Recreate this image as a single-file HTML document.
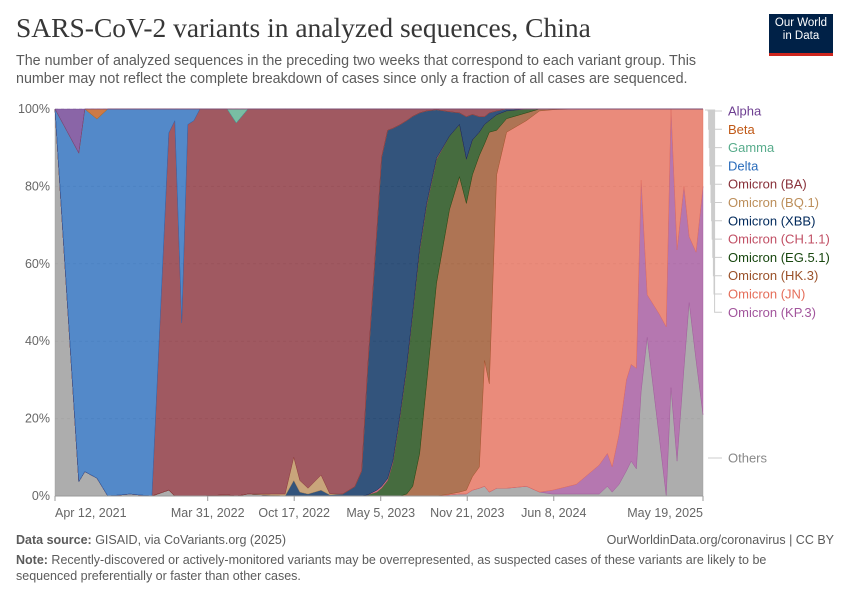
<!DOCTYPE html>
<html><head><meta charset="utf-8"><style>
body{margin:0;background:#fff;width:850px;height:600px;overflow:hidden;font-family:"Liberation Sans",sans-serif}
.t{position:absolute;white-space:nowrap}
</style></head><body>
<div class="t" style="left:16px;top:12px;font-family:'Liberation Serif',serif;font-size:27.5px;color:#373737">SARS-CoV-2 variants in analyzed sequences, China</div>
<div class="t" style="left:16px;top:52px;font-size:14.3px;line-height:18px;color:#5b5b5b">The number of analyzed sequences in the preceding two weeks that correspond to each variant group. This<br>number may not reflect the complete breakdown of cases since only a fraction of all cases are sequenced.</div>
<div style="position:absolute;left:769px;top:14px;width:64px;height:36px;background:#002147;border-bottom:3px solid #ce261e;color:#fff;font-size:11.5px;line-height:13px;text-align:center;padding-top:3px;box-sizing:content-box">Our World<br>in Data</div>
<svg id="chart" width="850" height="600" style="position:absolute;left:0;top:0"></svg>
<div class="t" style="left:16px;top:533px;font-size:12.5px;color:#5b5b5b"><b>Data source:</b> GISAID, via CoVariants.org (2025)</div>
<div class="t" style="right:16px;top:533px;font-size:12.5px;color:#5b5b5b">OurWorldinData.org/coronavirus | CC BY</div>
<div class="t" style="left:16px;top:553px;font-size:12.5px;line-height:15.5px;color:#5b5b5b"><b>Note:</b> Recently-discovered or actively-monitored variants may be overrepresented, as suspected cases of these variants are likely to be<br>sequenced preferentially or faster than other cases.</div>
<script>
const dates=["2021-04-12","2021-06-06","2021-06-20","2021-07-18","2021-08-12","2021-10-02","2021-11-22","2021-12-31","2022-01-14","2022-01-30","2022-02-13","2022-02-27","2022-03-13","2022-05-15","2022-06-05","2022-07-02","2022-09-26","2022-10-16","2022-10-30","2022-11-18","2022-12-18","2023-01-07","2023-02-06","2023-03-06","2023-03-22","2023-04-05","2023-04-26","2023-05-07","2023-05-21","2023-06-02","2023-06-18","2023-07-04","2023-07-18","2023-08-03","2023-08-19","2023-09-11","2023-10-11","2023-11-03","2023-11-19","2023-12-03","2023-12-19","2023-12-31","2024-01-11","2024-01-28","2024-02-20","2024-04-06","2024-05-06","2024-06-05","2024-07-30","2024-09-21","2024-10-10","2024-10-21","2024-11-06","2024-11-23","2024-12-04","2024-12-16","2024-12-27","2025-01-10","2025-02-07","2025-02-23","2025-03-06","2025-03-20","2025-04-05","2025-04-17","2025-05-03","2025-05-19"];
const others=[100,3.7,6.3,4.6,0,0.5,0,1.5,0,0,0,0,0,0.3,0,0.5,0,0,0,0,0,0,0,0,0,0,0,0,0,0,0,0,0,0,0,0,0.3,0.5,0.5,1.5,2,2.5,1,2,2,2.5,1,0.5,0.5,0.5,2.5,1,3,6.5,9,7,27,41,15,0,28,9,33,50,35,21];
const kp3=[0,0,0,0,0,0,0,0,0,0,0,0,0,0,0,0,0,0,0,0,0,0,0,0,0,0,0,0,0,0,0,0,0,0,0,0,0,0,0,0,0,0,0,0,0,0,0,1,2.5,7.5,8.5,6.5,13,23.5,25,26,54.6,11,32,43.7,72,54.6,47,17,28,59];
const jn=[0,0,0,0,0,0,0,0,0,0,0,0,0,0,0,0,0,0,0,0,0,0,0,0,0,0,0,0,0,0,0,0,0,0,0,0,0.2,0.5,1,3.5,5.5,32.5,28,81,92,94.5,98.5,98.3,97,92,89,92.5,84,70,66,67,18.4,48,53,56.3,0,36.4,20,33,37,20];
const hk3=[0,0,0,0,0,0,0,0,0,0,0,0,0,0,0,0,0,0,0,0,0,0,0,0,0,0,0,0,0,0,0,0.5,2.5,11,29,55,73.5,81.5,74.1,78,80.5,56,65,11.5,3.5,2,0.5,0.2,0,0,0,0,0,0,0,0,0,0,0,0,0,0,0,0,0,0];
const eg51=[0,0,0,0,0,0,0,0,0,0,0,0,0,0,0,0,0,0,0,0,0,0,0,0,0,0.3,1,2,4,8.5,20,32.5,44.5,52.5,46,32,19,13.5,11.4,9,6,5,3,4,2,1,0,0,0,0,0,0,0,0,0,0,0,0,0,0,0,0,0,0,0,0];
const ch11=[0,0,0,0,0,0,0,0,0,0,0,0,0,0,0,0,0,0,0,0,0,0,0,0,0,0,0.5,0.5,0.5,0.5,0.5,0.5,0.5,0.5,0.5,0.3,0,0,0,0,0,0,0,0,0,0,0,0,0,0,0,0,0,0,0,0,0,0,0,0,0,0,0,0,0,0];
const xbb=[0,0,0,0,0,0,0,0,0,0,0,0,0,0,0,0,0,4,1,0.5,1.5,0.3,0.5,2.4,6.5,33,67,85,90,86,75.4,63.5,50.6,35,24,12.5,6.3,3,11,6.6,4,2,2,1,0.5,0,0,0,0,0,0,0,0,0,0,0,0,0,0,0,0,0,0,0,0,0];
const bq1=[0,0,0,0,0,0,0,0,0,0,0,0,0,0,0,0,0.5,6,3,1.5,3.9,0.3,0,0,0,0,0,0,0,0,0,0,0,0,0,0,0,0,0,0,0,0,0,0,0,0,0,0,0,0,0,0,0,0,0,0,0,0,0,0,0,0,0,0,0,0];
const ba=[0,0,0,0,0,0,0,92.3,97,44.7,96,97,100,99.7,96.4,99.5,99.5,90,96,98,94.6,99.4,99.5,97.6,93.5,66.7,31.5,12.5,5.5,5,4.1,3,1.9,1,0.5,0.2,0.7,1,2,1.4,2,2,1,0.5,0,0,0,0,0,0,0,0,0,0,0,0,0,0,0,0,0,0,0,0,0,0];
const delta=[0,84.9,93.7,92.8,100,99.5,100,6.2,3,55.3,4,3,0,0,0,0,0,0,0,0,0,0,0,0,0,0,0,0,0,0,0,0,0,0,0,0,0,0,0,0,0,0,0,0,0,0,0,0,0,0,0,0,0,0,0,0,0,0,0,0,0,0,0,0,0,0];
const gamma=[0,0,0,0,0,0,0,0,0,0,0,0,0,0,3.6,0,0,0,0,0,0,0,0,0,0,0,0,0,0,0,0,0,0,0,0,0,0,0,0,0,0,0,0,0,0,0,0,0,0,0,0,0,0,0,0,0,0,0,0,0,0,0,0,0,0,0];
const beta=[0,0,0,2.6,0,0,0,0,0,0,0,0,0,0,0,0,0,0,0,0,0,0,0,0,0,0,0,0,0,0,0,0,0,0,0,0,0,0,0,0,0,0,0,0,0,0,0,0,0,0,0,0,0,0,0,0,0,0,0,0,0,0,0,0,0,0];
const alpha=[0,11.4,0,0,0,0,0,0,0,0,0,0,0,0,0,0,0,0,0,0,0,0,0,0,0,0,0,0,0,0,0,0,0,0,0,0,0,0,0,0,0,0,0,0,0,0,0,0,0,0,0,0,0,0,0,0,0,0,0,0,0,0,0,0,0,0];
const seriesNames=["Others","Omicron (KP.3)","Omicron (JN)","Omicron (HK.3)","Omicron (EG.5.1)","Omicron (CH.1.1)","Omicron (XBB)","Omicron (BQ.1)","Omicron (BA)","Delta","Gamma","Beta","Alpha"];
const yTicks=[0,20,40,60,80,100];
const xTickDates=["2021-04-12","2022-03-31","2022-10-17","2023-05-05","2023-11-21","2024-06-08","2025-05-19"];
const xTickLabels=["Apr 12, 2021","Mar 31, 2022","Oct 17, 2022","May 5, 2023","Nov 21, 2023","Jun 8, 2024","May 19, 2025"];

const series=[others,kp3,jn,hk3,eg51,ch11,xbb,bq1,ba,delta,gamma,beta,alpha];
const colors=["#999999","#a2559c","#e56e5a","#9a5129","#18470f","#c15065","#00295b","#bc8e5a","#883039","#286bbb","#58ac8c","#c05917","#6d3e91"];
const slugs=["others","kp3","jn","hk3","eg51","ch11","xbb","bq1","ba","delta","gamma","beta","alpha"];
const NS="http://www.w3.org/2000/svg";
const svg=document.getElementById('chart');
const X0=55,X1=703,Y0=496,Y1=109;
const t0=Date.parse(dates[0]),t1=Date.parse("2025-05-19");
const xs=d=>X0+(Date.parse(d)-t0)/(t1-t0)*(X1-X0);
const ys=v=>Y0-v/100*(Y0-Y1);
function mk(tag,attrs){const e=document.createElementNS(NS,tag);for(const k in attrs)e.setAttribute(k,attrs[k]);svg.appendChild(e);return e;}
yTicks.forEach(v=>{
  const g=mk('line',{x1:X0,x2:X1,y1:ys(v),y2:ys(v),stroke:'#ddd','stroke-dasharray':v===0?'':'3,3'});
  
  
  const t=mk('text',{x:50,y:ys(v)+4,'text-anchor':'end','font-size':'12.5','fill':'#666','font-family':'Liberation Sans'});
  t.textContent=v+'%';
  
  
});
const cum=dates.map(()=>0);
series.forEach((s,si)=>{
  const lo=cum.slice();
  s.forEach((v,i)=>cum[i]+=v);
  let d='';
  dates.forEach((dt,i)=>{d+=(i?'L':'M')+xs(dt).toFixed(2)+','+ys(cum[i]).toFixed(2);});
  for(let i=dates.length-1;i>=0;i--)d+='L'+xs(dates[i]).toFixed(2)+','+ys(lo[i]).toFixed(2);
  d+='Z';
  const p=mk('path',{d:d,fill:colors[si],'fill-opacity':0.8,stroke:colors[si],'stroke-width':0.5,'stroke-opacity':0.8});
  
  
});
mk('line',{x1:X0,x2:X1,y1:Y0,y2:Y0,stroke:'#999'});
xTickDates.forEach((dt,i)=>{
  const x=xs(dt);
  mk('line',{x1:x,x2:x,y1:Y0,y2:Y0+5,stroke:'#999'});
  const anchor=i===0?'start':(i===xTickDates.length-1?'end':'middle');
  const t=mk('text',{x:x,y:517,'text-anchor':anchor,'font-size':'12.5','fill':'#666','font-family':'Liberation Sans'});
  t.textContent=xTickLabels[i];
  
  
});
const legendOrder=[12,11,10,9,8,7,6,5,4,3,2,1];
legendOrder.forEach((si,k)=>{
  const ly=111+k*18.3;
  const vx=708+k*0.6;
  mk('path',{d:`M${X1+2},110 L${vx},110 L${vx},${ly} L722,${ly}`,fill:'none',stroke:'#ccc','stroke-width':1});
  const t=mk('text',{x:728,y:ly+4.5,'font-size':'13','fill':colors[si],'font-family':'Liberation Sans'});
  t.textContent=seriesNames[si];
  
  
});
mk('line',{x1:708,x2:722,y1:458,y2:458,stroke:'#ccc'});
const ot=mk('text',{x:728,y:462.5,'font-size':'13','fill':'#888','font-family':'Liberation Sans'});
ot.textContent=seriesNames[0];


</script>
</body></html>
